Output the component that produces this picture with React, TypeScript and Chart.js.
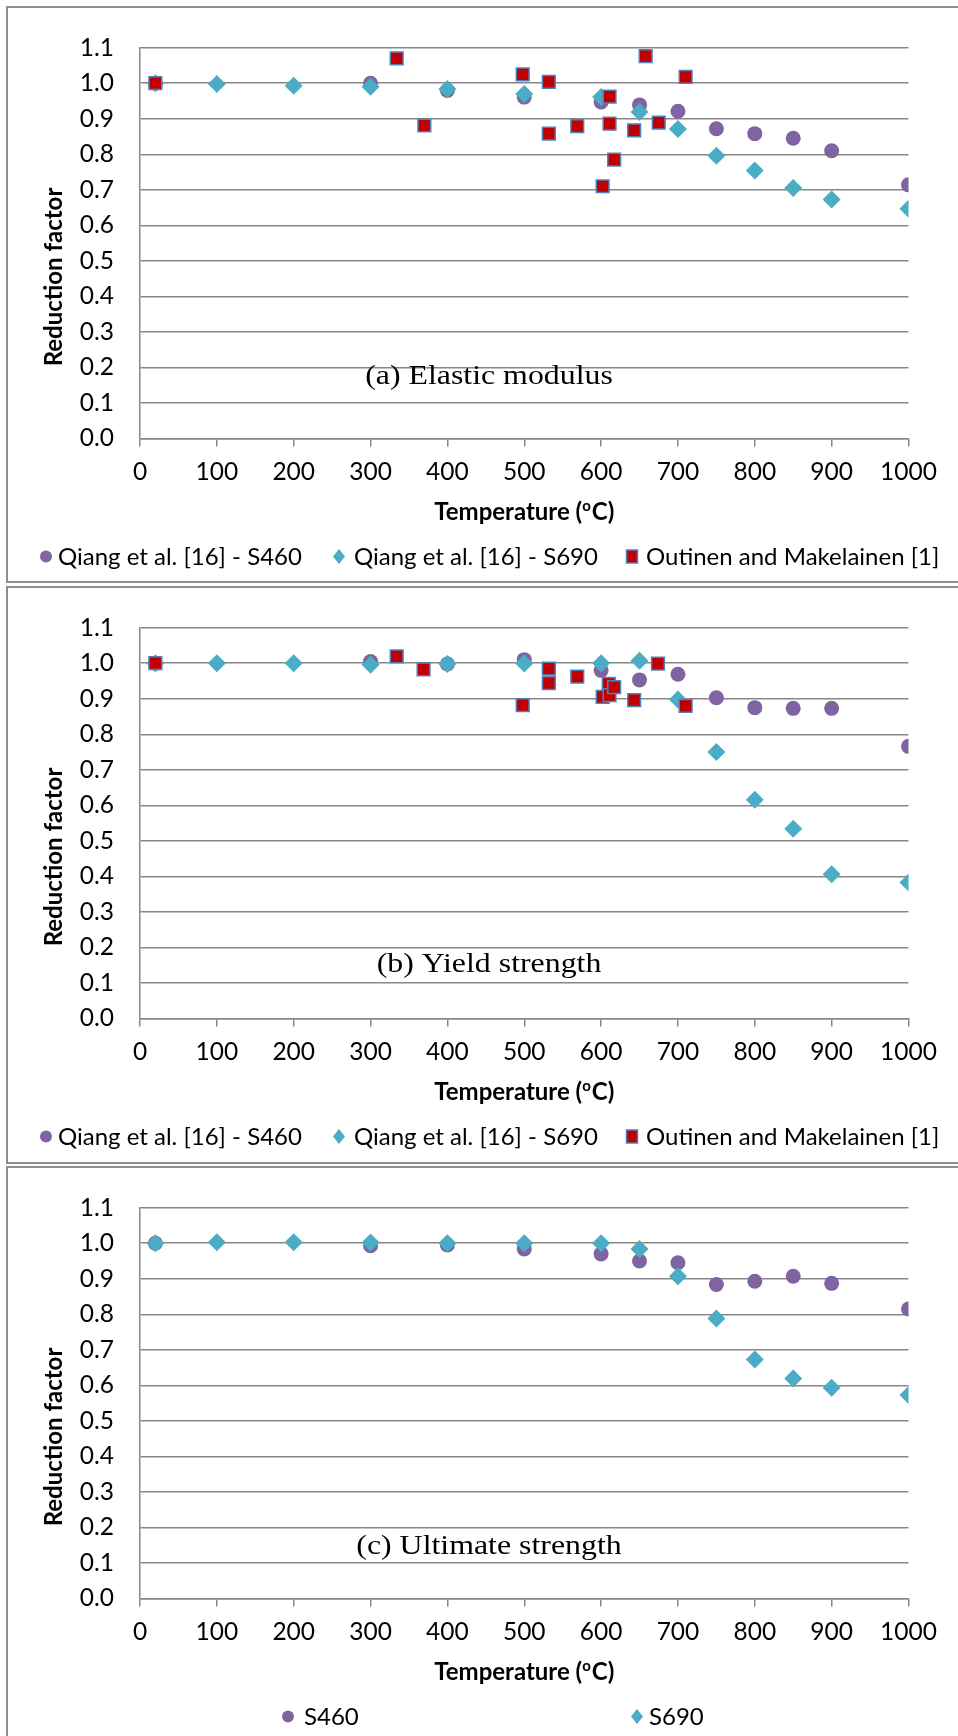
import React, { useEffect, useRef } from "react";
import { Chart, registerables } from "chart.js";

Chart.register(...registerables);

// ---------- data ----------
const tempsS460 = [20, 300, 400, 500, 600, 650, 700, 750, 800, 850, 900, 1000];
const tempsS690 = [20, 100, 200, 300, 400, 500, 600, 650, 700, 750, 800, 850, 900, 1000];

const elasticS460 = [1.0, 1.0, 0.98, 0.961, 0.947, 0.939, 0.921, 0.872, 0.858, 0.845, 0.81, 0.714];
const elasticS690 = [1.0, 0.998, 0.993, 0.99, 0.984, 0.97, 0.961, 0.919, 0.871, 0.796, 0.754, 0.705, 0.673, 0.647];
const outinenElasticTemps = [20, 334, 370, 498, 532, 532, 569, 602, 611, 611, 617, 643, 658, 675, 710];
const outinenElastic = [1.0, 1.07, 0.881, 1.025, 1.004, 0.858, 0.879, 0.71, 0.962, 0.886, 0.785, 0.867, 1.076, 0.889, 1.018];

const yieldS460 = [1.0, 1.005, 0.998, 1.01, 0.98, 0.953, 0.969, 0.903, 0.875, 0.873, 0.873, 0.766];
const yieldS690 = [1.0, 1.0, 1.0, 0.996, 0.998, 0.999, 1.0, 1.007, 0.898, 0.75, 0.616, 0.534, 0.406, 0.383];
const outinenYieldTemps = [20, 334, 369, 498, 532, 532, 569, 602, 610, 611, 617, 643, 674, 710];
const outinenYield = [1.0, 1.019, 0.983, 0.882, 0.985, 0.944, 0.962, 0.905, 0.942, 0.91, 0.933, 0.896, 0.999, 0.88];

const ultimateS460 = [1.0, 0.993, 0.995, 0.984, 0.97, 0.95, 0.945, 0.884, 0.893, 0.907, 0.887, 0.815];
const ultimateS690 = [1.0, 1.003, 1.003, 1.002, 1.0, 1.0, 1.0, 0.984, 0.907, 0.788, 0.673, 0.619, 0.593, 0.573];

const panelLabels = ["(a) Elastic modulus", "(b) Yield strength", "(c) Ultimate strength"];
const legendLabels3 = ["Qiang et al. [16] - S460", "Qiang et al. [16] - S690", "Outinen and Makelainen [1]"];
const legendLabels2 = ["S460", "S690"];
const xAxisTitle = ["Temperature (", "o", "C)"];
const yAxisTitle = "Reduction factor";

// ---------- style ----------
const PURPLE = "#8064A2";
const TEAL = "#4BACC6";
const RED = "#C00000";
const BLUE = "#4F81BD";
const GRID = "#878787";
const FONT = "Lato, 'Noto Sans', sans-serif";
const SERIF = "'Liberation Serif', 'DejaVu Serif', serif";

const zip = (xs: number[], ys: number[]) => xs.map((x, i) => ({ x, y: ys[i] }));

function s460(vals: number[]) {
  return {
    label: "S460",
    data: zip(tempsS460, vals),
    pointStyle: "circle",
    pointRadius: 7.5,
    backgroundColor: PURPLE,
    borderWidth: 0,
    order: 3,
  };
}
function s690(vals: number[]) {
  return {
    label: "S690",
    data: zip(tempsS690, vals),
    pointStyle: "rectRot",
    pointRadius: 9,
    backgroundColor: TEAL,
    borderWidth: 0,
    order: 2,
  };
}
function outinen(ts: number[], vals: number[]) {
  return {
    label: "Outinen",
    data: zip(ts, vals),
    pointStyle: "rect",
    pointRadius: 9,
    backgroundColor: RED,
    borderColor: BLUE,
    borderWidth: 1.5,
    order: 1,
  };
}

type LegendItem = { kind: "circle" | "diamond" | "square"; mx: number; tx: number; text: string };

function drawMarker(ctx: CanvasRenderingContext2D, kind: string, x: number, y: number) {
  ctx.save();
  if (kind === "circle") {
    ctx.fillStyle = PURPLE;
    ctx.beginPath();
    ctx.arc(x, y, 6, 0, Math.PI * 2);
    ctx.fill();
  } else if (kind === "diamond") {
    ctx.fillStyle = TEAL;
    ctx.beginPath();
    ctx.moveTo(x, y - 7.5);
    ctx.lineTo(x + 6, y);
    ctx.lineTo(x, y + 7.5);
    ctx.lineTo(x - 6, y);
    ctx.closePath();
    ctx.fill();
  } else {
    ctx.fillStyle = RED;
    ctx.strokeStyle = BLUE;
    ctx.lineWidth = 1.5;
    ctx.fillRect(x - 5.5, y - 6.5, 11, 13);
    ctx.strokeRect(x - 5.5, y - 6.5, 11, 13);
  }
  ctx.restore();
}

const decorPlugin = {
  id: "decor",
  afterDraw(chart: any, _args: any, opts: any) {
    const ctx: CanvasRenderingContext2D = chart.ctx;
    const area = chart.chartArea;
    ctx.save();
    ctx.fillStyle = "#000";

    // panel label (serif, horizontally stretched)
    ctx.save();
    ctx.font = `27px ${SERIF}`;
    ctx.textAlign = "center";
    ctx.textBaseline = "alphabetic";
    ctx.translate(opts.labelX, opts.labelY);
    ctx.scale(1.18, 1);
    ctx.fillText(opts.label, 0, 0);
    ctx.restore();

    // y axis title
    ctx.save();
    ctx.font = `bold 24px ${FONT}`;
    ctx.textAlign = "center";
    ctx.textBaseline = "alphabetic";
    ctx.translate(62, opts.yTitleY);
    ctx.rotate(-Math.PI / 2);
    const yw = ctx.measureText(yAxisTitle).width;
    const ys = Math.min(1, 180 / yw);
    ctx.scale(ys, 1);
    ctx.fillText(yAxisTitle, 0, 0);
    ctx.restore();

    // x axis title with superscript o
    ctx.save();
    const big = `bold 24px ${FONT}`;
    const small = `bold 15px ${FONT}`;
    ctx.font = big;
    const w0 = ctx.measureText(xAxisTitle[0]).width;
    const w2 = ctx.measureText(xAxisTitle[2]).width;
    ctx.font = small;
    const w1 = ctx.measureText(xAxisTitle[1]).width + 1;
    const total = w0 + w1 + w2;
    const cx = (area.left + area.right) / 2;
    const sx = Math.min(1, 190 / total);
    ctx.translate(cx, opts.xTitleY);
    ctx.scale(sx, 1);
    ctx.textAlign = "left";
    ctx.textBaseline = "alphabetic";
    let x = -total / 2;
    ctx.font = big;
    ctx.fillText(xAxisTitle[0], x, 0);
    x += w0;
    ctx.font = small;
    ctx.fillText(xAxisTitle[1], x, -9);
    x += w1;
    ctx.font = big;
    ctx.fillText(xAxisTitle[2], x, 0);
    ctx.restore();

    // legend
    ctx.font = `24px ${FONT}`;
    ctx.textAlign = "left";
    ctx.textBaseline = "alphabetic";
    for (const item of opts.legend as LegendItem[]) {
      drawMarker(ctx, item.kind, item.mx, opts.legendY - 8.5);
      ctx.fillStyle = "#000";
      ctx.fillText(item.text, item.tx, opts.legendY);
    }
    ctx.restore();
  },
};

type PanelProps = {
  top: number;
  height: number;
  datasets: any[];
  label: string;
  labelY: number;
  legend: LegendItem[];
};

function Panel({ top, height, datasets, label, labelY, legend }: PanelProps) {
  const ref = useRef<HTMLCanvasElement>(null);
  useEffect(() => {
    const canvas = ref.current!;
    const plotBottom = 431.5;
    const tickFont = { family: FONT, size: 24.5 };
    const chart = new Chart(canvas, {
      type: "scatter",
      data: { datasets },
      options: {
        animation: false,
        responsive: false,
        devicePixelRatio: 1,
        events: [],
        layout: { padding: { top: 30, right: 49.5, left: 0, bottom: 0 } },
        plugins: {
          legend: { display: false },
          tooltip: { enabled: false },
          decor: {
            label,
            labelX: 489,
            labelY,
            yTitleY: 270,
            xTitleY: 513,
            legendY: 558,
            legend,
          },
        } as any,
        scales: {
          x: {
            type: "linear",
            min: 0,
            max: 1000,
            ticks: {
              stepSize: 100,
              font: tickFont,
              color: "#000",
              padding: 11,
              maxRotation: 0,
              autoSkip: false,
              callback: (v: any) => String(Math.round(Number(v))),
            },
            grid: {
              drawOnChartArea: false,
              drawTicks: true,
              tickLength: 8,
              color: GRID,
              lineWidth: 1.5,
            },
            border: { display: true, color: GRID, width: 1.5 },
            afterFit: (s: any) => {
              s.height = height - plotBottom;
            },
          },
          y: {
            type: "linear",
            min: 0,
            max: 1.1,
            ticks: {
              stepSize: 0.1,
              font: tickFont,
              color: "#000",
              padding: 26,
              callback: (v: any) => Number(v).toFixed(1),
            },
            grid: { drawTicks: false, color: GRID, lineWidth: 1.5 },
            border: { display: true, color: GRID, width: 1.5 },
            afterFit: (s: any) => {
              s.width = 140;
            },
          },
        },
      } as any,
      plugins: [decorPlugin],
    });
    return () => chart.destroy();
  }, []);
  return (
    <canvas
      ref={ref}
      width={958}
      height={height}
      style={{ position: "absolute", left: 0, top, width: 958, height, display: "block" }}
    />
  );
}

const legend3: LegendItem[] = [
  { kind: "circle", mx: 46, tx: 58, text: legendLabels3[0] },
  { kind: "diamond", mx: 339, tx: 354, text: legendLabels3[1] },
  { kind: "square", mx: 632, tx: 646, text: legendLabels3[2] },
];
const legend2: LegendItem[] = [
  { kind: "circle", mx: 288, tx: 304, text: legendLabels2[0] },
  { kind: "diamond", mx: 637, tx: 649, text: legendLabels2[1] },
];

const frame = (top: number, height: number) => ({
  position: "absolute" as const,
  left: 6,
  top,
  width: 1000,
  height,
  border: "2px solid #8e8e8e",
  boxSizing: "border-box" as const,
});

export default function App() {
  return (
    <div
      style={{
        position: "absolute",
        left: 0,
        top: 0,
        width: 958,
        height: 1736,
        overflow: "hidden",
        background: "#fff",
      }}
    >
      <div style={frame(6, 577)} />
      <div style={frame(586, 578)} />
      <div style={frame(1166, 600)} />
      <Panel
        top={7}
        height={575}
        datasets={[s460(elasticS460), s690(elasticS690), outinen(outinenElasticTemps, outinenElastic)]}
        label={panelLabels[0]}
        labelY={377}
        legend={legend3}
      />
      <Panel
        top={587}
        height={575}
        datasets={[s460(yieldS460), s690(yieldS690), outinen(outinenYieldTemps, outinenYield)]}
        label={panelLabels[1]}
        labelY={385}
        legend={legend3}
      />
      <Panel
        top={1167}
        height={569}
        datasets={[s460(ultimateS460), s690(ultimateS690)]}
        label={panelLabels[2]}
        labelY={387}
        legend={legend2}
      />
    </div>
  );
}
